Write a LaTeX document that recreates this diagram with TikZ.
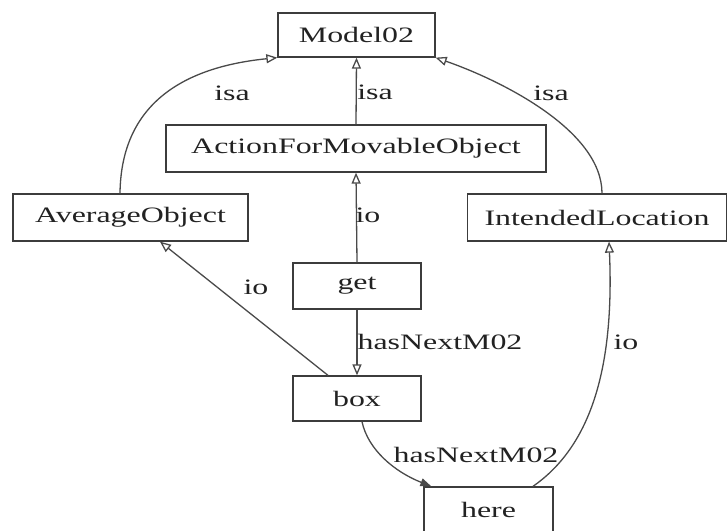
\documentclass[tikz,border=0pt]{standalone}
\usepackage{fontspec}
\setmainfont{Liberation Serif}
\usepackage{graphicx}
\usetikzlibrary{arrows.meta,calc}
\definecolor{boxc}{HTML}{3C3C3C}
\definecolor{linec}{HTML}{4A4A4A}
\definecolor{txtc}{HTML}{222222}
% wide serif lettering used for every label
\newcommand{\wtext}[1]{\scalebox{1.45}[1]{#1}}
\newcommand{\lblfont}{\fontsize{22}{26}\selectfont}
\begin{document}
\begin{tikzpicture}[x=1pt,y=-1pt,
  cls/.style={draw=boxc, line width=1.3pt, fill=white, inner sep=0pt,
              font=\lblfont, text=txtc},
  rel/.style={draw=linec, line width=1.3pt,
              -{Triangle[open,length=11pt,width=9pt]}},
  relf/.style={draw=linec, line width=1.3pt,
              -{Triangle[length=11pt,width=8pt]}},
  lab/.style={font=\lblfont, text=txtc, inner sep=0pt}]

\fill[white] (0,0) rectangle (728,530);
\useasboundingbox (0,0) rectangle (728,530);

% classes
\node[cls, minimum width=157pt, minimum height=44pt] (m)    at (356.5,35)  {\wtext{Model02}};
\node[cls, minimum width=380pt, minimum height=47pt] (afmo) at (356,148.5) {\wtext{ActionForMovableObject}};
\node[cls, minimum width=235pt, minimum height=47pt] (avg)  at (130.5,217.5) {\wtext{AverageObject}};
\node[cls, minimum width=259pt, minimum height=47pt] (il)   at (597,217.5) {\wtext{IntendedLocation}};
\node[cls, minimum width=128pt, minimum height=46pt] (get)  at (357,286)   {\wtext{get}};
\node[cls, minimum width=128pt, minimum height=45pt] (box)  at (357,398.5) {\wtext{box}};
\node[cls, minimum width=129pt, minimum height=46pt] (here) at (488.5,510) {\wtext{here}};

% relations
\draw[rel] ($(avg.north)+(-10.5,0)$) .. controls (121,110) and (175,68) .. (m.south west);
\draw[rel] (afmo.north) -- (m.south);
\draw[rel] ($(il.north)+(5,0)$) .. controls (602,130) and (500,80) .. (m.south east);
\draw[rel] (get.north) -- (afmo.south);
\draw[rel] ($(box.north)+(-29,0)$) -- ($(avg.south)+(29.5,0)$);
\draw[rel] (get.south) -- (box.north);
\draw[relf] ($(box.south)+(5,0)$) .. controls (368,450) and (395,472) .. ($(here.north west)+(8,0)$);
\draw[rel] ($(here.north)+(44.5,0)$) .. controls (585,450) and (615,380) .. ($(il.south)+(12,0)$);

% relation labels
\node[lab] (l1) at (232,93)  {\wtext{isa}};
\node[lab] (l2) at (375,92)  {\wtext{isa}};
\node[lab] (l3) at (551,93)  {\wtext{isa}};
\node[lab] (l4) at (368,215) {\wtext{io}};
\node[lab] (l5) at (256,287) {\wtext{io}};
\node[lab] (l6) at (440,342) {\wtext{hasNextM02}};
\node[lab] (l7) at (476,455) {\wtext{hasNextM02}};
\node[lab] (l8) at (626,342) {\wtext{io}};
\end{tikzpicture}
\end{document}
